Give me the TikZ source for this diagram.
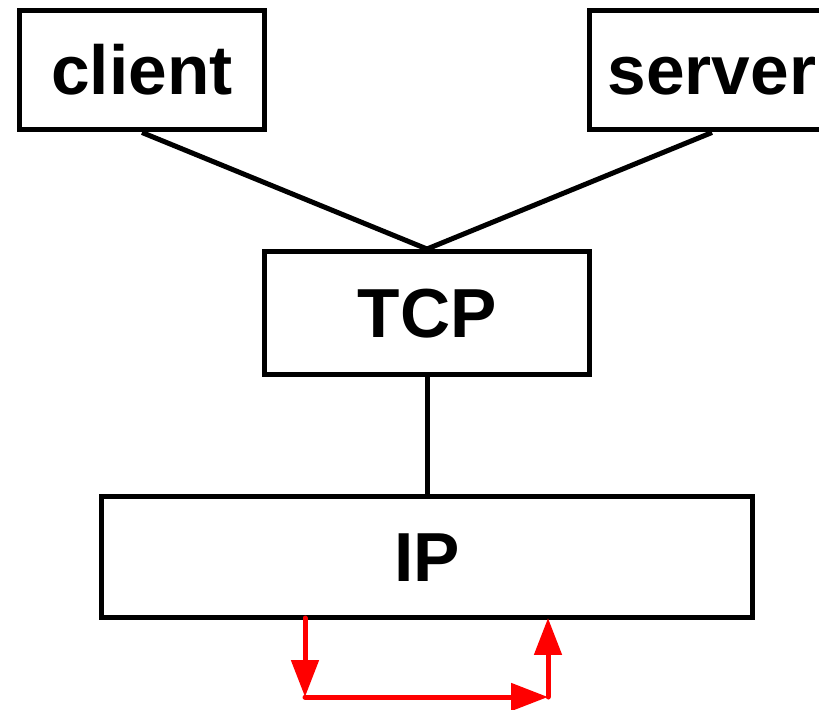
\documentclass[tikz,border=0pt]{standalone}
\usepackage{fontspec}
\setmainfont{Liberation Sans}
\usetikzlibrary{arrows.meta}

\begin{document}
\begin{tikzpicture}[x=0.02cm, y=-0.02cm,
  layer/.style={draw=black, line width=0.1cm, fill=white, inner sep=0pt,
    text height=28.4pt, text depth=0pt,
    font=\fontsize{39.5}{40}\selectfont\bfseries},
  flow/.style={draw=red, line width=0.1cm, line cap=round,
    -{Triangle[length=0.74cm, width=0.54cm]}}]
  \useasboundingbox (0,0) rectangle (819,710);
  % protocol boxes
  \node[layer, minimum width=4.9cm, minimum height=2.4cm] (client) at (142,70) {client};
  \node[layer, minimum width=4.9cm, minimum height=2.4cm] (server) at (712,70) {server};
  \node[layer, minimum width=6.5cm, minimum height=2.46cm] (tcp) at (427,313) {TCP};
  \node[layer, minimum width=13.02cm, minimum height=2.42cm] (ip) at (427,557) {IP};
  \draw[line width=0.1cm] (client.south) -- (tcp.north);
  \draw[line width=0.1cm] (server.south) -- (tcp.north);
  \draw[line width=0.1cm] (tcp.south) -- (ip.north);
  % loop below IP
  \coordinate (out) at (305,618);
  \coordinate (low) at (305,697);
  \coordinate (turn) at (548,697);
  \coordinate (in) at (548,618);
  \draw[flow] (out) -- (low);
  \draw[flow] (low) -- (turn);
  \draw[flow] (turn) -- (in);
\end{tikzpicture}
\end{document}
